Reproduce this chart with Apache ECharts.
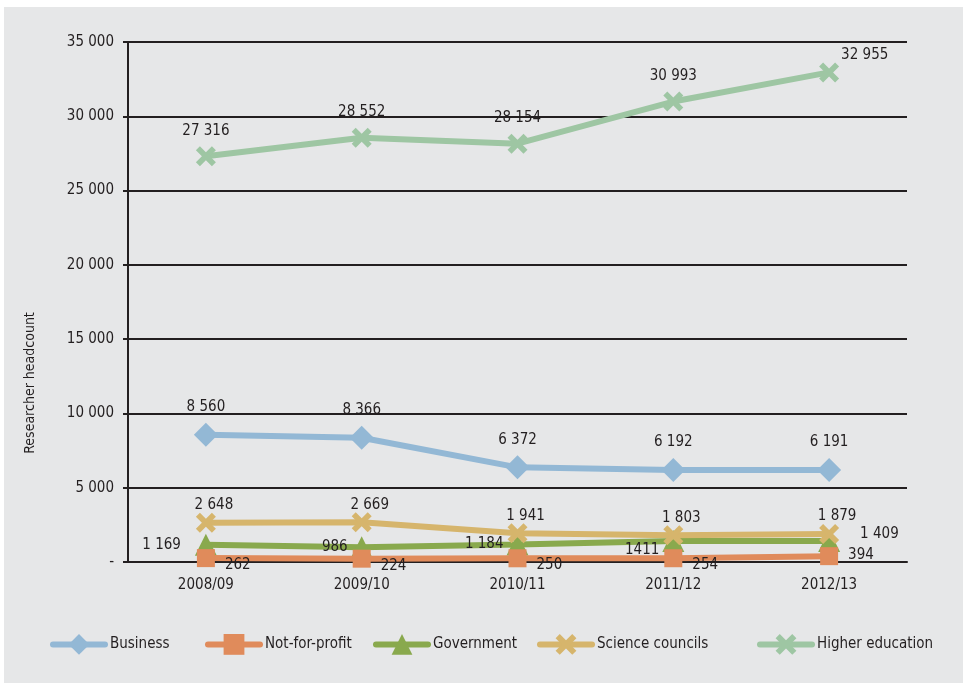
<!DOCTYPE html>
<html>
<head>
<meta charset="utf-8">
<script src="https://cdn.jsdelivr.net/npm/echarts@6/dist/echarts.min.js"></script>
<style>
  html, body { margin: 0; padding: 0; background: #fff; }
  #chart { width: 967px; height: 688px; }
</style>
</head>
<body>
<div id="chart"></div>
<script>
const years = ['2008/09', '2009/10', '2010/11', '2011/12', '2012/13'];
const business = [8560, 8366, 6372, 6192, 6191];
const notForProfit = [262, 224, 250, 254, 394];
const government = [1169, 986, 1184, 1411, 1409];
const scienceCouncils = [2648, 2669, 1941, 1803, 1879];
const higherEducation = [27316, 28552, 28154, 30993, 32955];
const yTicks = [0, 5000, 10000, 15000, 20000, 25000, 30000, 35000];

const FONT = "'Liberation Sans Narrow', 'DejaVu Sans Condensed', 'Roboto', sans-serif";
const TXT = '#231f20';
const crossPath = 'path://M2,0 L5,3 L8,0 L10,2 L7,5 L10,8 L8,10 L5,7 L2,10 L0,8 L3,5 L0,2 Z';

const fmt = v => v === 0 ? '-' : String(v).replace(/\B(?=(\d{3})+(?!\d))/g, ' ');
const lbl = extra => Object.assign({
  show: true, position: 'top', distance: 6,
  color: TXT, fontFamily: FONT, fontSize: 15,
  formatter: p => fmt(p.value)
}, extra || {});

function mkSeries (name, data, color, symbol, size, label, z) {
  return {
    name: name,
    type: 'line',
    data: data,
    symbol: symbol,
    symbolSize: size,
    z: z,
    lineStyle: { color: color, width: 6, cap: 'round' },
    itemStyle: { color: color },
    label: label,
    emphasis: { disabled: true }
  };
}

// a few labels are nudged like in the original layout
const govData = government.map((v, i) => {
  if (i === 0) return { value: v, label: { distance: 14 } };
  // the source prints this one without a thousands space
  if (i === 3) return { value: v, label: { offset: [0, 9], formatter: p => String(p.value) } };
  if (i === 4) return { value: v, label: { position: 'right', distance: 20, offset: [0, -7] } };
  return v;
});
const nfpData = notForProfit.map((v, i) => i === 4
  ? { value: v, label: { offset: [0, -1] } }
  : v);
const heData = higherEducation.map((v, i) => i === 4
  ? { value: v, label: { position: 'right', distance: 2, offset: [0, -17] } }
  : v);

const legendDefs = [
  ['Business', 50], ['Not-for-profit', 205], ['Government', 373],
  ['Science councils', 537], ['Higher education', 757]
];

const chart = echarts.init(document.getElementById('chart'));
chart.setOption({
  animation: false,
  backgroundColor: '#fff',
  graphic: [
    { type: 'rect', shape: { x: 4, y: 7, width: 959, height: 676 }, style: { fill: '#e6e7e8' }, z: -10 },
    {
      type: 'text', x: 30, y: 383, rotation: Math.PI / 2, origin: [0, 0],
      style: { text: 'Researcher headcount', fill: TXT, font: '14px ' + FONT, align: 'center', verticalAlign: 'middle' }
    }
  ],
  grid: { left: 128, right: 60, top: 42, bottom: 126 },
  legend: legendDefs.map(d => ({
    data: [d[0]], left: d[1], top: 634, padding: 0,
    itemWidth: 52, itemHeight: 26, itemGap: 0,
    lineStyle: { width: 6, cap: 'round' },
    textStyle: { color: TXT, fontFamily: FONT, fontSize: 15 }
  })),
  xAxis: {
    type: 'category',
    data: years,
    boundaryGap: true,
    axisLine: { lineStyle: { color: TXT, width: 2 } },
    axisTick: { show: false },
    axisLabel: { color: TXT, fontFamily: FONT, fontSize: 15, margin: 16 }
  },
  yAxis: {
    type: 'value',
    min: yTicks[0],
    max: yTicks[yTicks.length - 1],
    interval: yTicks[1] - yTicks[0],
    axisLine: { show: true, lineStyle: { color: TXT, width: 2 } },
    axisTick: { show: true, length: 5, lineStyle: { color: TXT, width: 2 } },
    splitLine: { lineStyle: { color: TXT, width: 2 } },
    axisLabel: { color: TXT, fontFamily: FONT, fontSize: 15, margin: 14, formatter: fmt }
  },
  series: [
    mkSeries('Business', business, '#93b8d5', 'diamond', 24, lbl({ distance: 8 }), 2),
    mkSeries('Not-for-profit', nfpData, '#e08b5b', 'rect', 18, lbl({ position: 'right', distance: 10, offset: [0, 7] }), 5),
    mkSeries('Government', govData, '#89a94d', 'triangle', 22, lbl({ position: 'left', distance: 3, offset: [0, 0] }), 3),
    mkSeries('Science councils', scienceCouncils, '#d6b56c', crossPath, 20, lbl({ distance: 0, offset: [8, 0] }), 4),
    mkSeries('Higher education', heData, '#9ec6a3', crossPath, 20, lbl({ distance: 8 }), 6)
  ]
});
</script>
</body>
</html>
